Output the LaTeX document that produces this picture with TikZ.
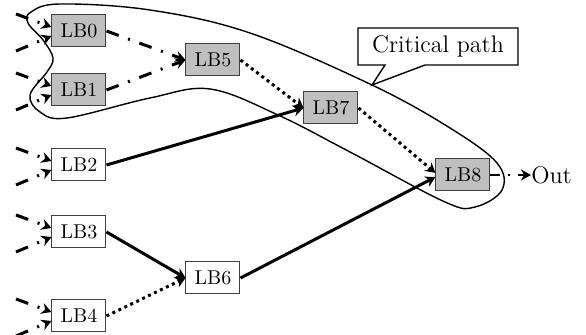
\documentclass[tikz,border=0pt]{standalone}
\usetikzlibrary{arrows.meta,calc}
\begin{document}
\begin{tikzpicture}[x=0.5pt,y=-0.5pt,
  lb/.style={draw=black!75,line width=0.5pt,minimum width=27pt,minimum height=16pt,
    inner sep=0pt,font=\fontsize{10}{12}\selectfont},
  crit/.style={lb,fill=black!25},
  plain/.style={lb,fill=white},
  tip/.style={-{Stealth[length=5pt,width=5.5pt,inset=1.6pt]}},
  dashdot/.style={tip,line width=1.5pt,dash pattern=on 6.5pt off 5pt on 1pt off 5pt},
  dots/.style={tip,line width=1.5pt,dash pattern=on 1.5pt off 1.8pt},
  heavy/.style={tip,line width=1.5pt},
  outline/.style={line width=0.7pt},
  lbl/.style={font=\fontsize{12}{14}\selectfont,inner sep=0pt}]
\useasboundingbox (0,0) rectangle (586,335);

% logic blocks
\node[crit]  (LB0) at (79,31)  {LB0};
\node[crit]  (LB1) at (79,90)  {LB1};
\node[plain] (LB2) at (79,165) {LB2};
\node[plain] (LB3) at (79,232) {LB3};
\node[plain] (LB4) at (79,316) {LB4};
\node[crit]  (LB5) at (213,60) {LB5};
\node[plain] (LB6) at (213,278){LB6};
\node[crit]  (LB7) at (331,108){LB7};
\node[crit]  (LB8) at (463,175){LB8};
\node[lbl,anchor=west] (Out) at (531,175) {Out};

% primary inputs entering from the left edge
\foreach \n/\c in {LB0/31,LB1/90,LB2/165,LB3/232,LB4/316}{
  \coordinate (\n-ia) at (16,\c-17);
  \coordinate (\n-ib) at (16,\c+20);
  \draw[dashdot] (\n-ia) -- ($(\n.west)+(0,-4)$);
  \draw[dashdot] (\n-ib) -- ($(\n.west)+(0,5)$);
}

% internal connections
\draw[dashdot] (LB0.east) -- (LB5.west);
\draw[dashdot] (LB1.east) -- (LB5.west);
\draw[dots]    (LB5.east) -- (LB7.west);
\draw[heavy]   (LB2.east) -- (LB7.west);
\draw[dots]    (LB7.east) -- ($(LB8.west)+(0,-2)$);
\draw[heavy]   (LB6.east) -- ($(LB8.west)+(0,2)$);
\draw[heavy]   (LB3.east) -- (LB6.west);
\draw[dots]    (LB4.east) -- (LB6.west);
\draw[tip,line width=1pt,dash pattern=on 5pt off 4pt on 1pt off 4pt] (LB8.east) -- (Out.west);

% critical path enclosure
\draw[outline] plot[smooth cycle,tension=0.6] coordinates{
  (31,12) (60,4) (150,10) (250,33) (372,85) (450,128) (497,163) (502,190)
  (475,207) (445,202) (350,152) (278,115) (210,89) (150,98) (67,118)
  (40,112) (30,95) (47,72) (53,58) (43,40) (28,23)};

% callout
\draw[line width=0.7pt,fill=white] (358,28) -- (518,28) -- (518,65) -- (425,65)
  -- (372,85) -- (385,65) -- (358,65) -- cycle;
\node[lbl] (cp) at (438,46) {Critical path};
\end{tikzpicture}
\end{document}
